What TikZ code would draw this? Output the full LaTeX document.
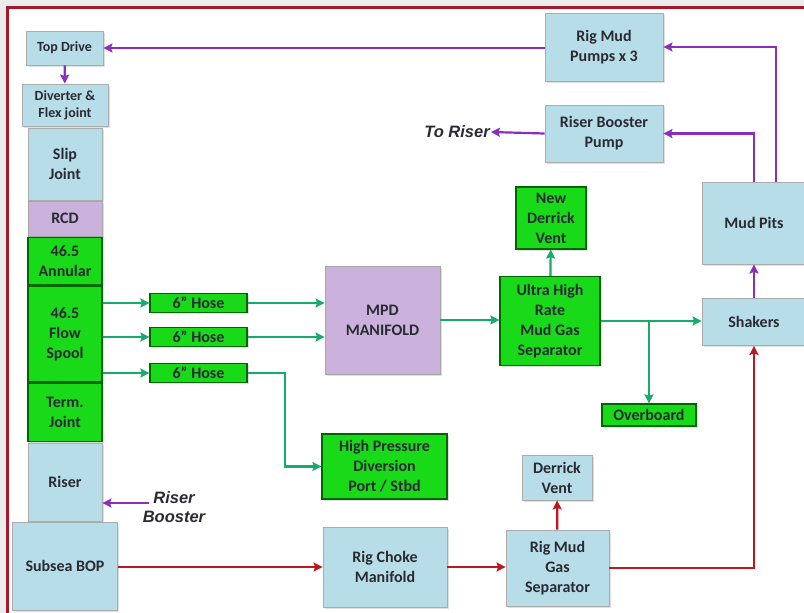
\documentclass[tikz,border=0pt]{standalone}
\usepackage{fontspec}
\setmainfont{Carlito}
\newfontfamily\notefont{Liberation Sans}
\usetikzlibrary{arrows.meta,positioning,shadows}

\definecolor{pipeblue}{RGB}{183,221,232}
\definecolor{mpdgreen}{RGB}{25,218,25}
\definecolor{ctrlpurple}{RGB}{202,178,220}
\definecolor{linepurple}{RGB}{140,45,190}
\definecolor{linegreen}{RGB}{20,172,105}
\definecolor{linered}{RGB}{192,22,32}
\definecolor{framered}{RGB}{168,24,44}
\definecolor{txt}{RGB}{42,42,52}

\begin{document}
\begin{tikzpicture}[x=1pt, y=-1pt, >={Stealth[length=9pt, width=9pt, inset=1.5pt]},
    block/.style={rectangle, draw, align=center, inner sep=1pt, text=txt,
        font=\bfseries\fontsize{16}{20}\selectfont,
        drop shadow={opacity=0.25, shadow xshift=1.5pt, shadow yshift=-1.5pt}},
    pipe/.style={block, fill=pipeblue, draw=gray!65, line width=0.8pt},
    mpd/.style={block, fill=mpdgreen, draw=green!40!black, line width=1.2pt},
    ctrl/.style={block, fill=ctrlpurple, draw=gray!70, line width=0.8pt},
    hose/.style={mpd, minimum width=97pt, minimum height=19pt},
    note/.style={align=center, inner sep=1pt, text=txt,
        font=\notefont\bfseries\itshape\fontsize{16.5}{19}\selectfont},
    mudarrow/.style={->, line width=2.2pt, linepurple},
    mpdarrow/.style={->, line width=2.2pt, linegreen},
    chokearrow/.style={->, line width=2.2pt, linered}]

    % frame
    \useasboundingbox (0,0) rectangle (804,613);
    \fill[gray!15] (0,0) rectangle (804,613);
    \fill[white] (7.5,7.5) rectangle (804,613);
    \draw[framered, line width=3.5pt] (7.5,613) -- (7.5,7.5) -- (804,7.5);

    % riser stack
    \node[pipe, minimum width=77pt, minimum height=34pt, font=\bfseries\fontsize{14}{17}\selectfont] (topdrv) at (64.5,48) {Top Drive};
    \node[pipe, minimum width=86pt, minimum height=42pt, font=\bfseries\fontsize{14}{17}\selectfont] (divert) at (65,105) {Diverter \&\\Flex joint};
    \node[pipe, minimum width=74pt, minimum height=72pt] (slip) at (65,164) {Slip\\Joint};
    \node[ctrl, minimum width=74pt, minimum height=35pt, below=0.5pt of slip] (rcd) {RCD};
    \node[mpd, minimum width=74pt, minimum height=47pt, below=0pt of rcd] (annular) {46.5\\Annular};
    \node[mpd, minimum width=74pt, minimum height=96pt, below=0.5pt of annular] (spool) {46.5\\Flow\\Spool};
    \node[mpd, minimum width=74pt, minimum height=58pt, below=0.5pt of spool] (term) {Term.\\Joint};
    \node[pipe, minimum width=74pt, minimum height=78pt, below=0.5pt of term] (riser) {Riser};
    \node[pipe, minimum width=105pt, minimum height=88pt, below=0pt of riser] (bop) {Subsea BOP};
    \node[note] (rbooster) at (174,507) {Riser\\Booster};

    % MPD line
    \node[hose] (hose1) at (198.5,303) {6'' Hose};
    \node[hose] (hose2) at (198.5,337) {6'' Hose};
    \node[hose] (hose3) at (198.5,373) {6'' Hose};
    \node[ctrl, minimum width=115pt, minimum height=108pt] (manifold) at (382.5,320) {MPD\\MANIFOLD};
    \node[mpd, minimum width=100pt, minimum height=89pt] (mgs) at (550,321) {Ultra High\\Rate\\Mud Gas\\Separator};
    \node[mpd, minimum width=70pt, minimum height=62pt] (newvent) at (551,218) {New\\Derrick\\Vent};
    \node[mpd, minimum width=94pt, minimum height=22pt] (overbd) at (649,415) {Overboard};
    \node[mpd, minimum width=125pt, minimum height=65pt] (hpd) at (384.5,466.5) {High Pressure\\Diversion\\Port / Stbd};

    % mud system
    \node[pipe, minimum width=104pt, minimum height=47pt] (shakers) at (754,322) {Shakers};
    \node[pipe, minimum width=104pt, minimum height=82pt] (pits) at (754,223) {Mud Pits};
    \node[pipe, minimum width=118pt, minimum height=68pt] (pumps) at (604,47) {Rig Mud\\Pumps x 3};
    \node[pipe, minimum width=118pt, minimum height=57pt] (booster) at (604,133.5) {Riser Booster\\Pump};
    \node[note] (toriser) at (457,132) {To Riser};

    % rig choke line
    \node[pipe, minimum width=124pt, minimum height=80pt] (choke) at (385,567) {Rig Choke\\Manifold};
    \node[pipe, minimum width=103pt, minimum height=76pt] (rmgs) at (557.5,568) {Rig Mud\\Gas\\Separator};
    \node[pipe, minimum width=70pt, minimum height=45pt] (vent) at (557,477.5) {Derrick\\Vent};

    % purple lines
    \draw[mudarrow] (pumps.west |- topdrv) -- (topdrv.east);
    \draw[mudarrow] (topdrv) -- (divert);
    \draw[mudarrow] ([xshift=22pt]pits.north) |- (pumps.east);
    \draw[mudarrow] (pits.north) |- (booster.east);
    \draw[mudarrow] (booster.west) -- (toriser.east);
    \draw[mudarrow] (shakers) -- (pits);
    \draw[mudarrow] ([xshift=7pt,yshift=4pt]rbooster.west) coordinate (rb) -- (rb -| riser.east);

    % green lines
    \draw[mpdarrow] (spool.east |- hose1) -- (hose1.west);
    \draw[mpdarrow] (spool.east |- hose2) -- (hose2.west);
    \draw[mpdarrow] (spool.east |- hose3) -- (hose3.west);
    \draw[mpdarrow] (hose1.east) -- (hose1 -| manifold.west);
    \draw[mpdarrow] (hose2.east) -- (hose2 -| manifold.west);
    \draw[mpdarrow] (hose3.east) -- ++(37,0) |- (hpd.west);
    \draw[mpdarrow] (manifold.east) -- (manifold.east -| mgs.west);
    \draw[mpdarrow] (mgs) -- (newvent);
    \draw[mpdarrow] (mgs.east) -- (mgs.east -| shakers.west);
    \draw[mpdarrow] (mgs.east -| overbd.north) -- (overbd.north);

    % red lines
    \draw[chokearrow] (bop.east |- choke) -- (choke.west);
    \draw[chokearrow] (choke.east) -- (choke.east -| rmgs.west);
    \draw[chokearrow] (rmgs) -- (vent);
    \draw[chokearrow] (rmgs.east) -| (shakers.south);
\end{tikzpicture}
\end{document}
